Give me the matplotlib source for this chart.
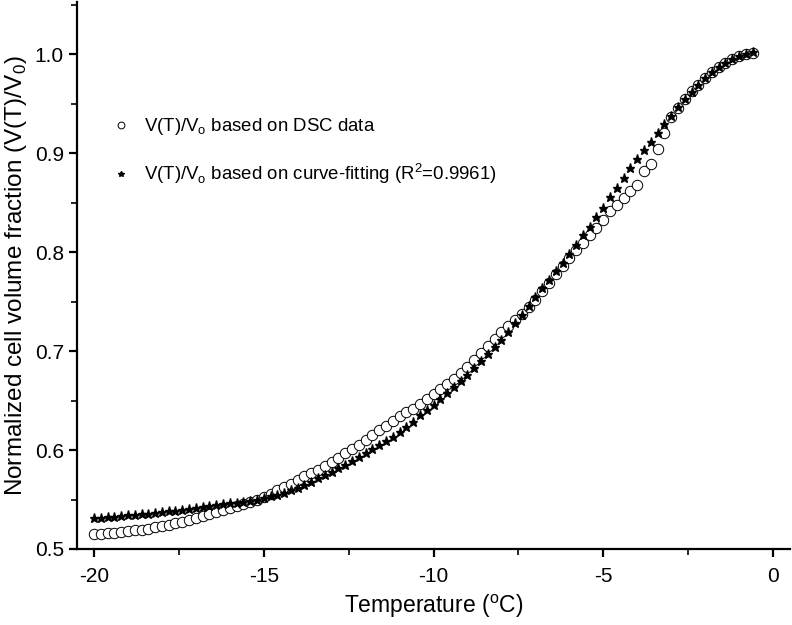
import matplotlib
matplotlib.use('Agg')
import matplotlib.pyplot as plt
from matplotlib.ticker import MultipleLocator

plt.rcParams['font.family'] = ['Liberation Sans', 'DejaVu Sans']
plt.rcParams['axes.unicode_minus'] = False

# temperatures (degC), same grid for both series
temperature = [
    -20.0, -19.8, -19.6, -19.4, -19.2, -19.0, -18.8, -18.6, -18.4, -18.2,
    -18.0, -17.8, -17.6, -17.4, -17.2, -17.0, -16.8, -16.6, -16.4, -16.2,
    -16.0, -15.8, -15.6, -15.4, -15.2, -15.0, -14.8, -14.6, -14.4, -14.2,
    -14.0, -13.8, -13.6, -13.4, -13.2, -13.0, -12.8, -12.6, -12.4, -12.2,
    -12.0, -11.8, -11.6, -11.4, -11.2, -11.0, -10.8, -10.6, -10.4, -10.2,
    -10.0, -9.8, -9.6, -9.4, -9.2, -9.0, -8.8, -8.6, -8.4, -8.2,
    -8.0, -7.8, -7.6, -7.4, -7.2, -7.0, -6.8, -6.6, -6.4, -6.2,
    -6.0, -5.8, -5.6, -5.4, -5.2, -5.0, -4.8, -4.6, -4.4, -4.2,
    -4.0, -3.8, -3.6, -3.4, -3.2, -3.0, -2.8, -2.6, -2.4, -2.2,
    -2.0, -1.8, -1.6, -1.4, -1.2, -1.0, -0.8, -0.6,
]

# V(T)/Vo from DSC data
dsc_volume = [
    0.515, 0.515, 0.516, 0.516, 0.517, 0.518, 0.519, 0.519, 0.520, 0.522,
    0.523, 0.524, 0.526, 0.527, 0.529, 0.531, 0.533, 0.535, 0.537, 0.539,
    0.541, 0.543, 0.545, 0.548, 0.550, 0.553, 0.556, 0.560, 0.563, 0.566,
    0.570, 0.574, 0.577, 0.580, 0.584, 0.588, 0.592, 0.597, 0.601, 0.605,
    0.610, 0.615, 0.620, 0.624, 0.629, 0.634, 0.638, 0.642, 0.647, 0.652,
    0.657, 0.662, 0.667, 0.672, 0.678, 0.684, 0.691, 0.698, 0.705, 0.712,
    0.719, 0.725, 0.732, 0.738, 0.745, 0.752, 0.761, 0.769, 0.778, 0.786,
    0.794, 0.802, 0.809, 0.817, 0.825, 0.833, 0.842, 0.848, 0.855, 0.862,
    0.868, 0.882, 0.889, 0.904, 0.921, 0.937, 0.946, 0.955, 0.963, 0.969,
    0.976, 0.982, 0.987, 0.991, 0.995, 0.998, 1.000, 1.001,
]

# V(T)/Vo from the curve fit
fit_volume = [
    0.531, 0.531, 0.532, 0.532, 0.533, 0.534, 0.534, 0.535, 0.535, 0.536,
    0.537, 0.538, 0.538, 0.539, 0.540, 0.541, 0.542, 0.543, 0.544, 0.545,
    0.546, 0.547, 0.548, 0.549, 0.550, 0.552, 0.554, 0.555, 0.557, 0.560,
    0.562, 0.565, 0.568, 0.572, 0.575, 0.578, 0.582, 0.585, 0.589, 0.593,
    0.597, 0.601, 0.605, 0.609, 0.613, 0.618, 0.623, 0.628, 0.635, 0.641,
    0.646, 0.652, 0.658, 0.664, 0.670, 0.676, 0.683, 0.690, 0.697, 0.704,
    0.711, 0.719, 0.728, 0.737, 0.746, 0.755, 0.764, 0.772, 0.781, 0.789,
    0.798, 0.807, 0.817, 0.826, 0.836, 0.845, 0.856, 0.865, 0.875, 0.885,
    0.894, 0.903, 0.911, 0.921, 0.930, 0.938, 0.947, 0.955, 0.962, 0.969,
    0.976, 0.982, 0.987, 0.991, 0.995, 0.998, 1.000, 1.002,
]

fig = plt.figure(figsize=(7.92, 6.25), dpi=100)
ax = fig.add_axes([77/792, 76/625, 713/792, 547/625])

ax.plot(temperature, dsc_volume, linestyle='none', marker='o', markersize=7.5,
        markerfacecolor='white', markeredgecolor='black', markeredgewidth=0.7,
        label=r'V(T)/V$_\mathregular{o}$ based on DSC data')
ax.plot(temperature, fit_volume, linestyle='none', marker='*', markersize=6.5,
        color='black', label=r'V(T)/V$_\mathregular{o}$ based on curve-fitting (R$^\mathregular{2}$=0.9961)')

ax.set_xlim(-20.5, 0.5)
ax.set_ylim(0.5, 1.053)
ax.xaxis.set_major_locator(MultipleLocator(5))
ax.xaxis.set_minor_locator(MultipleLocator(2.5))
ax.yaxis.set_major_locator(MultipleLocator(0.1))
ax.yaxis.set_minor_locator(MultipleLocator(0.05))
ax.yaxis.set_major_formatter(plt.FuncFormatter(lambda v, p: f'{v:.1f}'))

for side in ['top', 'right']:
    ax.spines[side].set_visible(False)
for side in ['left', 'bottom']:
    ax.spines[side].set_linewidth(1.6)
ax.tick_params(which='major', direction='out', length=6, width=1.6, labelsize=15)
ax.tick_params(axis='x', which='major', pad=7)
ax.tick_params(which='minor', direction='out', length=4, width=1.2)

ax.set_xlabel(r'Temperature ($^\mathregular{o}$C)', fontsize=16.5, labelpad=5)
ax.set_ylabel(r'Normalized cell volume fraction (V(T)/V$_\mathregular{0}$)', fontsize=17.5, labelpad=4)

ax.legend(loc='upper left', bbox_to_anchor=(0.022, 0.822), frameon=False,
          fontsize=13.4, markerscale=0.65, handlelength=1.2, handletextpad=0.68,
          labelspacing=1.3)

fig.savefig('out.png', dpi=100)
